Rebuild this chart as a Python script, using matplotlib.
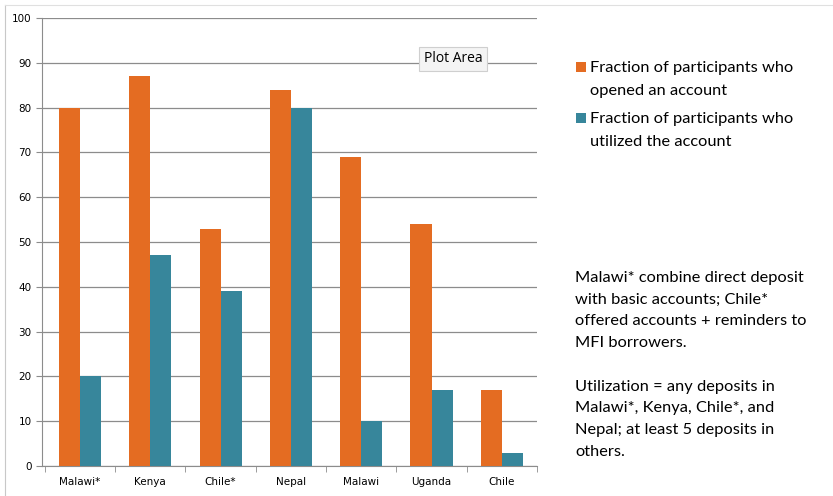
import numpy as np
import matplotlib.pyplot as plt
from matplotlib.patches import Rectangle

categories = ["Malawi*", "Kenya", "Chile*", "Nepal", "Malawi", "Uganda", "Chile"]
opened = [80, 87, 53, 84, 69, 54, 17]
utilized = [20, 47, 39, 80, 10, 17, 3]
series_names = ["Fraction of participants who\nopened an account",
                "Fraction of participants who\nutilized the account"]
note = ("Malawi* combine direct deposit\nwith basic accounts; Chile*\n"
        "offered accounts + reminders to\nMFI borrowers.\n\n"
        "Utilization = any deposits in\nMalawi*, Kenya, Chile*, and\n"
        "Nepal; at least 5 deposits in\nothers.")

ORANGE = "#E46C22"
TEAL = "#37869B"
GRID = "#8C8C8C"
colors = [ORANGE, TEAL]

plt.rcParams["font.family"] = ["Lato", "DejaVu Sans"]

fig = plt.figure(figsize=(8.33, 4.96), dpi=100)
ax = fig.add_axes([42 / 833, 1 - 466 / 496, 495 / 833, 448 / 496])

x = np.arange(len(categories))
w = 0.3
ax.bar(x - w / 2, opened, w, color=ORANGE, zorder=3)
ax.bar(x + w / 2, utilized, w, color=TEAL, zorder=3)

ax.set_xlim(-0.54, len(categories) - 0.54)
ax.set_ylim(0, 100)
ax.set_yticks(range(0, 101, 10))
ax.yaxis.grid(True, color=GRID, linewidth=0.9, zorder=0)
ax.set_xticks(x)
ax.set_xticklabels(categories, fontsize=7.5, family="DejaVu Sans")
ax.set_xticks(np.arange(-0.5, len(categories), 1), minor=True)
ax.tick_params(axis="x", which="major", length=0, pad=8)
ax.tick_params(axis="x", which="minor", length=4, color=GRID)
ax.tick_params(axis="y", labelsize=7.5, length=4, color=GRID)
for lab in ax.get_yticklabels():
    lab.set_family("DejaVu Sans")
for s in ["top", "right"]:
    ax.spines[s].set_visible(False)
for s in ["left", "bottom"]:
    ax.spines[s].set_color(GRID)

# outer chart frame
fig.add_artist(plt.Line2D([5 / 833, 5 / 833], [0, 1 - 5 / 496], color="#C8C8C8", lw=0.8))
fig.add_artist(plt.Line2D([5 / 833, 1], [1 - 5 / 496, 1 - 5 / 496], color="#E0E0E0", lw=0.8))

# "Plot Area" tooltip
fig.text(453 / 833, 1 - 59 / 496, "Plot Area", ha="center", va="center", fontsize=10,
         family=["Open Sans", "DejaVu Sans"],
         bbox=dict(boxstyle="square,pad=0.35", fc="#F4F4F4", ec="#CFCFCF", lw=0.8))

# legend
leg_y = [67, 118]
for name, c, yy in zip(series_names, colors, leg_y):
    fig.add_artist(Rectangle((576 / 833, 1 - (yy + 5) / 496), 10 / 833, 10 / 496,
                             facecolor=c, edgecolor="none", transform=fig.transFigure))
    fig.text(590 / 833, 1 - (yy - 6) / 496, name, ha="left", va="top",
             fontsize=11.8, linespacing=1.85)

fig.text(575 / 833, 1 - 271 / 496, note, ha="left", va="top", fontsize=11.8,
         linespacing=1.7)

fig.savefig("out.png", dpi=100)
